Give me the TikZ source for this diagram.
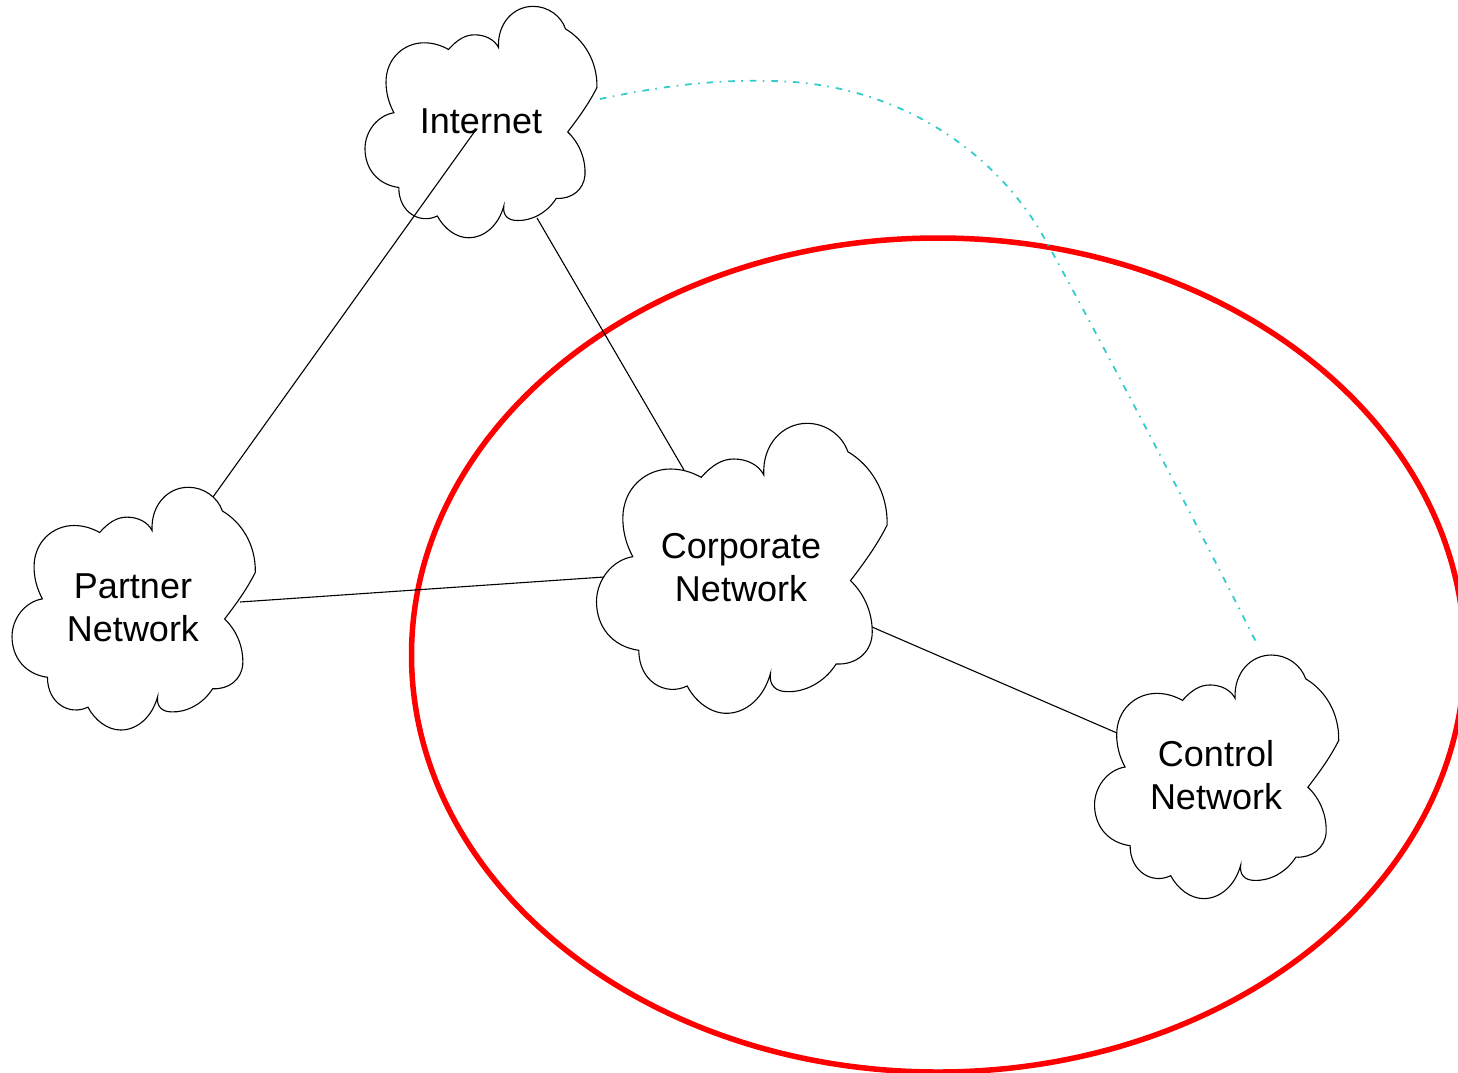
\documentclass[tikz,border=0pt]{standalone}
\usepackage{fontspec}
\setmainfont{Liberation Sans}
\usepackage{tikz}

\newcommand{\cloudpath}{(332,187) .. controls (365,150) and (395,132) .. (430,132)
  .. controls (470,132) and (505,150) .. (520,180)
  .. controls (515,90) and (575,25) .. (650,25)
  .. controls (705,25) and (755,60) .. (772,110)
  .. controls (840,150) and (892,230) .. (890,330)
  .. controls (860,390) and (820,445) .. (780,497)
  .. controls (825,540) and (848,600) .. (845,660)
  .. controls (840,715) and (795,750) .. (737,747)
  .. controls (700,805) and (640,832) .. (590,830)
  .. controls (555,830) and (535,810) .. (540,775)
  .. controls (520,850) and (465,895) .. (408,895)
  .. controls (360,895) and (315,860) .. (290,813)
  .. controls (225,845) and (145,800) .. (145,706)
  .. controls (65,695) and (18,635) .. (18,560)
  .. controls (18,495) and (65,435) .. (127,425)
  .. controls (105,385) and (97,345) .. (97,310)
  .. controls (97,220) and (165,162) .. (240,162)
  .. controls (275,162) and (305,172) .. (332,187) -- cycle}

\tikzset{
  cloudline/.style={draw,line width=1.1pt},
  netlabel/.style={align=center,font=\fontsize{36}{43}\selectfont},
  netlink/.style={draw,line width=1.1pt},
  controllink/.style={draw,color={rgb,255:red,51;green,204;blue,204},line width=1.8pt,
    dash pattern=on 6.5pt off 6.5pt on 1.6pt off 7pt},
  zoneline/.style={draw,red,line width=5.5pt}
}

\begin{document}
\begin{tikzpicture}[x=1pt,y=-1pt]
      \useasboundingbox (0,0) rectangle (1458,1072);
      \path[zoneline] (938,655) ellipse [x radius=526.5,y radius=417];
      \foreach \xcloud/\ycloud/\scloud in {360.2/-0.3/0.266, 7/480.3/0.279, 590.5/415/0.3333, 1089.5/648/0.28} {
        \path[cloudline,shift={(\xcloud,\ycloud)},scale=\scloud] \cloudpath;
      }
      \node[netlabel] (internet) at (481,121) {Internet};
      \node[netlabel] (partner) at (133,608) {Partner\\Network};
      \node[netlabel] (corporate) at (741,568) {Corporate\\Network};
      \node[netlabel] (control) at (1216,775) {Control\\Network};
      \coordinate (internetin) at (475,131);
      \coordinate (internetbot) at (537,218);
      \coordinate (internetright) at (600,99);
      \coordinate (partnertop) at (213,497);
      \coordinate (partnerright) at (240,602);
      \coordinate (corporatetop) at (684,470);
      \coordinate (corporateleft) at (604,577);
      \coordinate (corporateright) at (872,627);
      \coordinate (controlleft) at (1117,733);
      \coordinate (controltop) at (1257,644);
      \path[netlink] (internetin) -- (partnertop);
      \path[netlink] (internetbot) -- (corporatetop);
      \path[netlink] (partnerright) -- (corporateleft);
      \path[netlink] (corporateright) -- (controlleft);
      \path[controllink] (internetright) .. controls (680,82) and (730,80) .. (770,81)
        .. controls (900,82) and (1000,155) .. (1047,243)
        .. controls (1090,320) and (1200,530) .. (controltop);
    \end{tikzpicture}
\end{document}
